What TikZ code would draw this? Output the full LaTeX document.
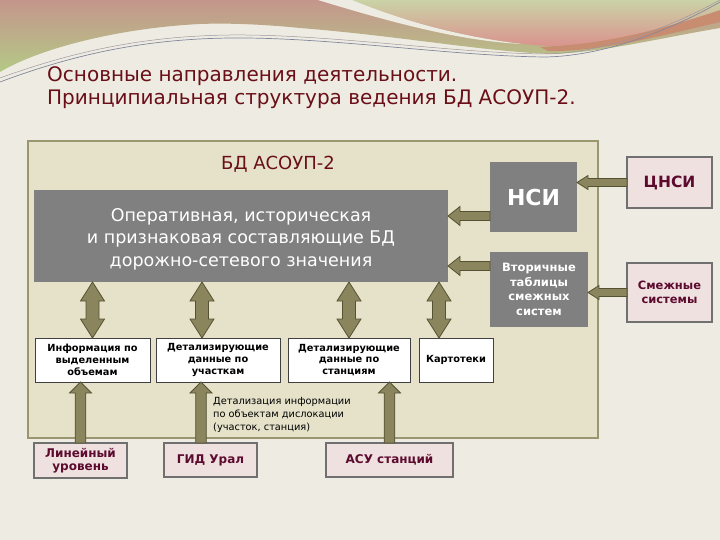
\documentclass[tikz,border=0pt]{standalone}
\usepackage{fontspec}
\setmainfont{DejaVu Sans}
\usepackage{tikz}
\usetikzlibrary{%
  calc,%
  positioning%
}
\definecolor{bgcream}{HTML}{EEECE2}
\definecolor{dbfill}{HTML}{E5E2C9}
\definecolor{dbline}{HTML}{9A9670}
\definecolor{boxgray}{HTML}{808080}
\definecolor{arrfill}{HTML}{8B855E}
\definecolor{arrline}{HTML}{555234}
\definecolor{pinkfill}{HTML}{F0E1E1}
\definecolor{pinkline}{HTML}{707070}
\definecolor{titlered}{HTML}{6A0E17}
\definecolor{plum}{HTML}{5C0B2E}
\definecolor{wavepink}{HTML}{C4968C}
\definecolor{wavegreen}{HTML}{B4C986}
\definecolor{wavesage}{HTML}{CAD2A6}
\definecolor{waverose}{HTML}{DA938E}
\definecolor{wavebrown}{HTML}{C88C70}
\definecolor{waveline}{HTML}{82889C}
\definecolor{waveline2}{HTML}{A096A0}
\tikzset{%
  dbframe/.style={draw=dbline,fill=dbfill,line width=1.6pt,inner sep=0pt},
  gbox/.style={fill=boxgray,text=white,inner sep=0pt,outer sep=0pt,align=center},
  wbox/.style={draw=black!75,fill=white,line width=0.8pt,inner sep=0pt,outer sep=0pt,
    align=center,font=\bfseries\fontsize{9.8}{11.8}\selectfont},
  pbox/.style={draw=pinkline,fill=pinkfill,line width=1.5pt,inner sep=0pt,outer sep=0pt,
    align=center,text=plum,font=\bfseries\fontsize{12}{15}\selectfont},
  fatarr/.style={draw=arrline,fill=arrfill,line width=0.8pt,line join=miter}}
% fat arrow: from, to, half shaft, half head, head length
\newcommand{\fatarrow}[5]{%
  \draw[fatarr] let \p1=(#1), \p2=(#2), \n1={atan2(\y2-\y1,\x2-\x1)},
    \n2={veclen(\x2-\x1,\y2-\y1)} in
    [shift={(\p1)},rotate=\n1] (0pt,-#3pt) -- (\n2-#5pt,-#3pt) -- (\n2-#5pt,-#4pt)
    -- (\n2,0pt) -- (\n2-#5pt,#4pt) -- (\n2-#5pt,#3pt) -- (0pt,#3pt) -- cycle;}
\newcommand{\dblarrow}[5]{%
  \draw[fatarr] let \p1=(#1), \p2=(#2), \n1={atan2(\y2-\y1,\x2-\x1)},
    \n2={veclen(\x2-\x1,\y2-\y1)} in
    [shift={(\p1)},rotate=\n1] (0pt,0pt) -- (#5pt,-#4pt) -- (#5pt,-#3pt)
    -- (\n2-#5pt,-#3pt) -- (\n2-#5pt,-#4pt) -- (\n2,0pt) -- (\n2-#5pt,#4pt)
    -- (\n2-#5pt,#3pt) -- (#5pt,#3pt) -- (#5pt,#4pt) -- cycle;}

\begin{document}
\begin{tikzpicture}[x=1pt,y=-1pt]
  \useasboundingbox (0,0) rectangle (720,540);
  \fill[bgcream] (0,0) rectangle (720,540);
  % top waves
  \shade[top color=wavepink,bottom color=wavegreen]
    (0,0) -- (720,0) -- (720,28) .. controls (660,38) and (600,53) .. (550,54)
    .. controls (480,51) and (400,36) .. (300,28) .. controls (260,24) and (225,23) .. (200,24)
    .. controls (120,28) and (40,48) .. (0,72) -- cycle;
  \fill[wavebrown]
    (540,47) .. controls (600,45) and (660,26) .. (720,10) -- (720,22)
    .. controls (660,36) and (600,52) .. (548,51) -- cycle;
  \shade[top color=wavesage,bottom color=waverose]
    (345,0) -- (720,0) -- (720,10) .. controls (660,30) and (600,45) .. (548,46)
    .. controls (480,42) and (410,22) .. (345,0) -- cycle;
  \fill[bgcream] (318,0) -- (352,0) .. controls (410,24) and (470,38) .. (522,44)
    .. controls (460,41) and (390,22) .. (318,0) -- cycle;
  \draw[waveline,line width=0.7pt]
    (0,82) .. controls (80,52) and (150,39) .. (230,38) .. controls (330,37) and (450,56) .. (545,57)
    .. controls (610,56) and (680,25) .. (720,2);
  \draw[waveline2,line width=0.5pt]
    (0,78) .. controls (80,49) and (150,36) .. (230,35) .. controls (330,34) and (450,53) .. (545,54)
    .. controls (610,53) and (680,22) .. (720,0);
  % title
  \node[anchor=base west,align=left,text=titlered,inner sep=0pt,
    font=\fontsize{20}{23}\selectfont] (title) at (47,105)
    {Основные направления деятельности.\\Принципиальная структура ведения БД АСОУП-2.};
  % database frame
  \node[dbframe,minimum width=570pt,minimum height=297pt] (db) at (313,289.5) {};
  \node[text=titlered,font=\fontsize{18}{21}\selectfont] (dbname) at (278,164) {БД АСОУП-2};
  \node[gbox,minimum width=414pt,minimum height=92pt,font=\fontsize{17.5}{22.5}\selectfont]
    (main) at (241,236) {\rule{0pt}{19.5pt}Оперативная, историческая\\и признаковая составляющие БД\\дорожно-сетевого значения};
  \node[gbox,minimum width=87pt,minimum height=70pt,font=\bfseries\fontsize{22}{25}\selectfont]
    (nsi) at (533.5,197) {НСИ};
  \node[gbox,minimum width=98pt,minimum height=75pt,font=\bfseries\fontsize{11.5}{14.5}\selectfont]
    (vt) at (539,289.5) {Вторичные\\таблицы\\смежных\\систем};
  \node[pbox,minimum width=85pt,minimum height=51pt,font=\bfseries\fontsize{15.5}{19}\selectfont]
    (cnsi) at (669.5,182.5) {ЦНСИ};
  \node[pbox,minimum width=85pt,minimum height=59pt,font=\bfseries\fontsize{11.5}{14.5}\selectfont]
    (smezh) at (669.5,292.5) {Смежные\\системы};
  % lower row
  \node[wbox,minimum width=115pt,minimum height=44pt] (inf) at (92.5,360)
    {Информация по\\выделенным\\объемам};
  \node[wbox,minimum width=124pt,minimum height=44pt] (dsec) at (218,360)
    {Детализирующие\\данные по\\участкам};
  \node[wbox,minimum width=122pt,minimum height=44pt] (dst) at (349,360)
    {Детализирующие\\данные по\\станциям};
  \node[wbox,minimum width=74pt,minimum height=44pt] (kart) at (456,360) {Картотеки};
  \node[anchor=north west,align=left,inner sep=0pt,font=\fontsize{9.8}{13.3}\selectfont]
    (note) at (213,397) {Детализация информации\\по объектам дислокации\\(участок, станция)};
  % sources
  \node[pbox,minimum width=93pt,minimum height=35pt,font=\bfseries\fontsize{12}{13.5}\selectfont]
    (lin) at (80.5,460.5) {Линейный\\уровень};
  \node[pbox,minimum width=93pt,minimum height=34pt] (gid) at (210.5,460) {ГИД Урал};
  \node[pbox,minimum width=127pt,minimum height=34pt] (asu) at (389.5,460) {АСУ станций};
  % connectors
  \coordinate (nsiout) at ([yshift=16pt]nsi.south west);
  \coordinate (vtout) at ([yshift=-14pt]vt.north west);
  \coordinate (dsecin) at ([xshift=-16pt]dsec.north);
  \coordinate (kartin) at ([xshift=-17pt]kart.north);
  \coordinate (gidout) at ([xshift=-9.5pt]gid.north);
  \fatarrow{cnsi.west}{nsi.east |- cnsi.west}{4}{7}{11}
  \fatarrow{smezh.west}{vt.east |- smezh.west}{4}{7}{11}
  \fatarrow{nsiout}{main.east |- nsiout}{4.5}{9.5}{12}
  \fatarrow{vtout}{main.east |- vtout}{4.5}{9.5}{12}
  \dblarrow{inf.north}{main.south -| inf.north}{6.5}{12}{19}
  \dblarrow{dsecin}{main.south -| dsecin}{6.5}{12}{19}
  \dblarrow{dst.north}{main.south -| dst.north}{6.5}{12}{19}
  \dblarrow{kartin}{main.south -| kartin}{6.5}{12}{19}
  \fatarrow{lin.north}{inf.south -| lin.north}{5.3}{11}{11}
  \fatarrow{gidout}{dsec.south -| gidout}{5.3}{11}{11}
  \fatarrow{asu.north}{dst.south -| asu.north}{5.3}{11}{11}
\end{tikzpicture}
\end{document}
